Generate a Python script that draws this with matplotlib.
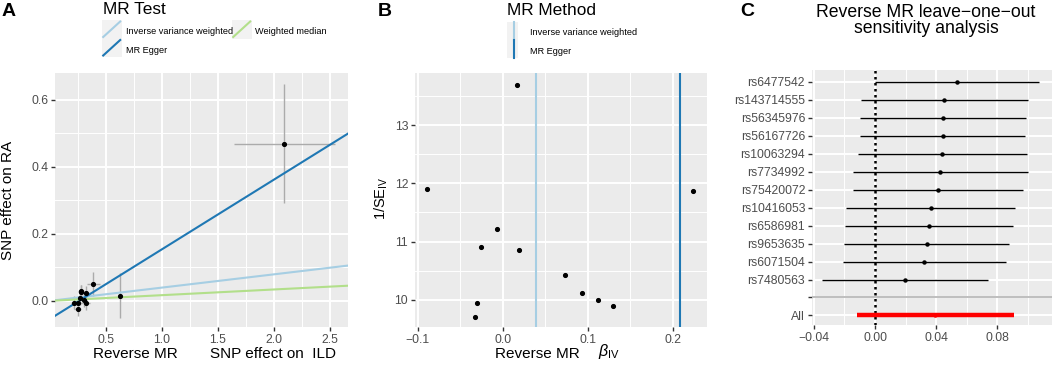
import numpy as np
import matplotlib
matplotlib.use("Agg")
import matplotlib.pyplot as plt
from matplotlib.patches import Rectangle
from matplotlib.lines import Line2D

plt.rcParams['font.family'] = ['Liberation Sans', 'DejaVu Sans']
plt.rcParams['mathtext.fontset'] = 'custom'
plt.rcParams['mathtext.rm'] = 'Liberation Sans'
plt.rcParams['mathtext.it'] = 'Liberation Sans:italic'

# ---- data ----
# panel A: SNP effects (exposure = ILD, outcome = RA)
beta_exp = [2.09, 0.625, 0.387, 0.277, 0.279, 0.319, 0.319, 0.253, 0.214, 0.247, 0.265, 0.300]
se_exp = [0.45, 0.02, 0.06, 0.03, 0.03, 0.035, 0.035, 0.03, 0.03, 0.03, 0.03, 0.03]
beta_out = [0.469, 0.016, 0.051, 0.030, 0.026, 0.023, -0.007, -0.005, -0.005, -0.024, 0.008, 0.002]
se_out = [0.178, 0.068, 0.035, 0.018, 0.02, 0.02, 0.02, 0.02, 0.02, 0.02, 0.02, 0.02]

methods = ['Inverse variance weighted', 'MR Egger', 'Weighted median']
method_b = [0.0396, 0.208, 0.0170]
method_a = [0.0, -0.054, 0.0]
method_col = ['#A6CEE3', '#1F78B4', '#B2DF8A']

# panel B: funnel plot
b_iv = [0.0165, -0.0887, 0.224, -0.007, -0.0254, 0.0188, 0.0737, 0.093, 0.112, 0.130, -0.0305, -0.033]
inv_se = [13.69, 11.91, 11.87, 11.21, 10.91, 10.86, 10.43, 10.11, 9.99, 9.89, 9.95, 9.71]

# panel C: leave-one-out
snps = ['rs6477542', 'rs143714555', 'rs56345976', 'rs56167726', 'rs10063294', 'rs7734992',
        'rs75420072', 'rs10416053', 'rs6586981', 'rs9653635', 'rs6071504', 'rs7480563']
loo_b = [0.0536, 0.0455, 0.0448, 0.0446, 0.0439, 0.0426, 0.0411, 0.0365, 0.0352, 0.0339, 0.0323, 0.0194]
loo_lo = [0.0003, -0.0092, -0.0096, -0.0096, -0.0114, -0.0144, -0.0144, -0.0190, -0.0196, -0.0203, -0.0207, -0.0347]
loo_hi = [0.1078, 0.1001, 0.0990, 0.0984, 0.0995, 0.1001, 0.0968, 0.0920, 0.0902, 0.0881, 0.0861, 0.0739]
all_b, all_lo, all_hi = 0.0396, -0.012, 0.0912

W, H = 1052, 365
fig = plt.figure(figsize=(W / 100, H / 100), dpi=100)


def box(l, t, r, b):
    return [l / W, 1 - b / H, (r - l) / W, (b - t) / H]


def ftext(x, y, s, **kw):
    fig.text(x / W, 1 - y / H, s, **kw)


def style(ax, xmaj, xmin_, ymaj, ymin_):
    ax.set_facecolor('#EBEBEB')
    for s in ax.spines.values():
        s.set_visible(False)
    ax.set_xticks(xmaj)
    ax.set_xticks(xmin_, minor=True)
    if ymaj is not None:
        ax.set_yticks(ymaj)
        ax.set_yticks(ymin_, minor=True)
    ax.grid(True, which='major', color='white', lw=1.4)
    ax.grid(True, which='minor', color='white', lw=0.7)
    ax.set_axisbelow(True)
    ax.tick_params(which='major', length=2.75, width=1, color='#333333',
                   labelcolor='#4D4D4D', labelsize=8.8, pad=2.2)
    ax.tick_params(which='minor', length=0)


# ---- panel A ----
axA = fig.add_axes(box(55, 73, 348, 327))
style(axA, [0.5, 1.0, 1.5, 2.0, 2.5], [0.25, 0.75, 1.25, 1.75, 2.25],
      [0.0, 0.2, 0.4, 0.6], [0.1, 0.3, 0.5])
axA.set_xlim(0.045, 2.66)
axA.set_ylim(-0.078, 0.68)
axA.set_xticklabels(['0.5', '1.0', '1.5', '2.0', '2.5'])
axA.set_yticklabels(['0.0', '0.2', '0.4', '0.6'])
bx = np.array(beta_exp)
by = np.array(beta_out)
axA.errorbar(bx, by, xerr=se_exp, yerr=se_out, fmt='none', ecolor='#ABABAB', elinewidth=1.0)
xs = np.array(axA.get_xlim())
for b, a, c in zip(method_b, method_a, method_col):
    axA.plot(xs, a + b * xs, color=c, lw=1.5)
axA.plot(bx, by, 'o', color='black', ms=2.7, zorder=5)

# ---- panel B ----
axB = fig.add_axes(box(415, 73, 707, 327))
style(axB, [-0.1, 0.0, 0.1, 0.2], [-0.05, 0.05, 0.15],
      [10, 11, 12, 13], [9.5, 10.5, 11.5, 12.5, 13.5])
axB.set_xlim(-0.103, 0.24)
axB.set_ylim(9.53, 13.9)
axB.set_xticklabels(['\u22120.1', '0.0', '0.1', '0.2'])
axB.axvline(method_b[0], color=method_col[0], lw=1.5)
axB.axvline(method_b[1], color=method_col[1], lw=1.5)
axB.plot(b_iv, inv_se, 'o', color='black', ms=2.7, zorder=5)

# ---- panel C ----
axC = fig.add_axes(box(812, 70, 1052, 325))
n = len(snps)
ypos = np.arange(n + 2, 2, -1)  # rows 14..3, blank row 2, All row 1
style(axC, [-0.04, 0.0, 0.04, 0.08], [-0.02, 0.02, 0.06, 0.10],
      list(ypos) + [2, 1], [])
axC.set_yticklabels(snps + ['', 'All'])
axC.set_xticklabels(['\u22120.04', '0.00', '0.04', '0.08'])
axC.set_xlim(-0.0413, 0.116)
axC.set_ylim(0.47, 14.65)
axC.axvline(0, color='black', lw=1.8, ls=(0, (1, 1.4)), zorder=2)
axC.axhline(2, color='#BEBEBE', lw=1.4, zorder=2)
axC.hlines(ypos, loo_lo, loo_hi, color='black', lw=1.0, zorder=3)
axC.plot(loo_b, ypos, 'o', color='black', ms=2.2, zorder=4)
axC.hlines([1], [all_lo], [all_hi], color='#FF0000', lw=3.2, zorder=3)
axC.plot([all_b], [1], 'o', color='#FF0000', ms=2.2, zorder=4)

# ---- titles, labels, legends ----
ftext(2, 16, 'A', fontsize=14, fontweight='bold', va='baseline')
ftext(378, 16, 'B', fontsize=14, fontweight='bold', va='baseline')
ftext(740, 16, 'C', fontsize=14, fontweight='bold', va='baseline')

ftext(93, 358, 'Reverse MR', fontsize=11, va='baseline')
ftext(210, 358, 'SNP effect on  ILD', fontsize=11, va='baseline')
ftext(8, 200, 'SNP effect on RA', fontsize=11, rotation=90, ha='center', va='center')

ftext(495, 358, 'Reverse MR', fontsize=11, va='baseline')
ftext(598, 356, r'$\beta_{\mathrm{IV}}$', fontsize=11.5, va='baseline')
ftext(381, 198, r'1/SE$_{\mathrm{IV}}$', fontsize=10.5, rotation=90, ha='center', va='center')

ftext(926, 17, 'Reverse MR leave\u2212one\u2212out', fontsize=12.7, ha='center', va='baseline')
ftext(926, 33, 'sensitivity analysis', fontsize=12.7, ha='center', va='baseline')

# legend A
ftext(103, 14, 'MR Test', fontsize=12.4, va='baseline')
keysA = [(101.7, 20, methods[0], method_col[0], 126),
         (101.7, 38.5, methods[1], method_col[1], 126),
         (231.7, 20, methods[2], method_col[2], 255)]
for kx, ky, lab, col, tx in keysA:
    fig.add_artist(Rectangle((kx / W, 1 - (ky + 18.5) / H), 20 / W, 18.5 / H,
                             transform=fig.transFigure, color='#F2F2F2', lw=0))
    fig.add_artist(Line2D([(kx + 1.5) / W, (kx + 18.5) / W],
                          [1 - (ky + 17) / H, 1 - (ky + 1.5) / H],
                          transform=fig.transFigure, color=col, lw=1.5))
    ftext(tx, ky + 14.5, lab, fontsize=6.6, va='baseline')

# legend B
ftext(507, 15, 'MR Method', fontsize=12.4, va='baseline')
keysB = [(506.7, 21.7, methods[0], method_col[0]),
         (506.7, 40, methods[1], method_col[1])]
for kx, ky, lab, col in keysB:
    fig.add_artist(Rectangle((kx / W, 1 - (ky + 18.3) / H), 11.6 / W, 18.3 / H,
                             transform=fig.transFigure, color='#F2F2F2', lw=0))
    fig.add_artist(Line2D([(kx + 7) / W, (kx + 7) / W],
                          [1 - (ky + 18.3) / H, 1 - ky / H],
                          transform=fig.transFigure, color=col, lw=1.5))
    ftext(530, ky + 13.5, lab, fontsize=6.6, va='baseline')

fig.savefig('out.png', dpi=100, facecolor='white')
